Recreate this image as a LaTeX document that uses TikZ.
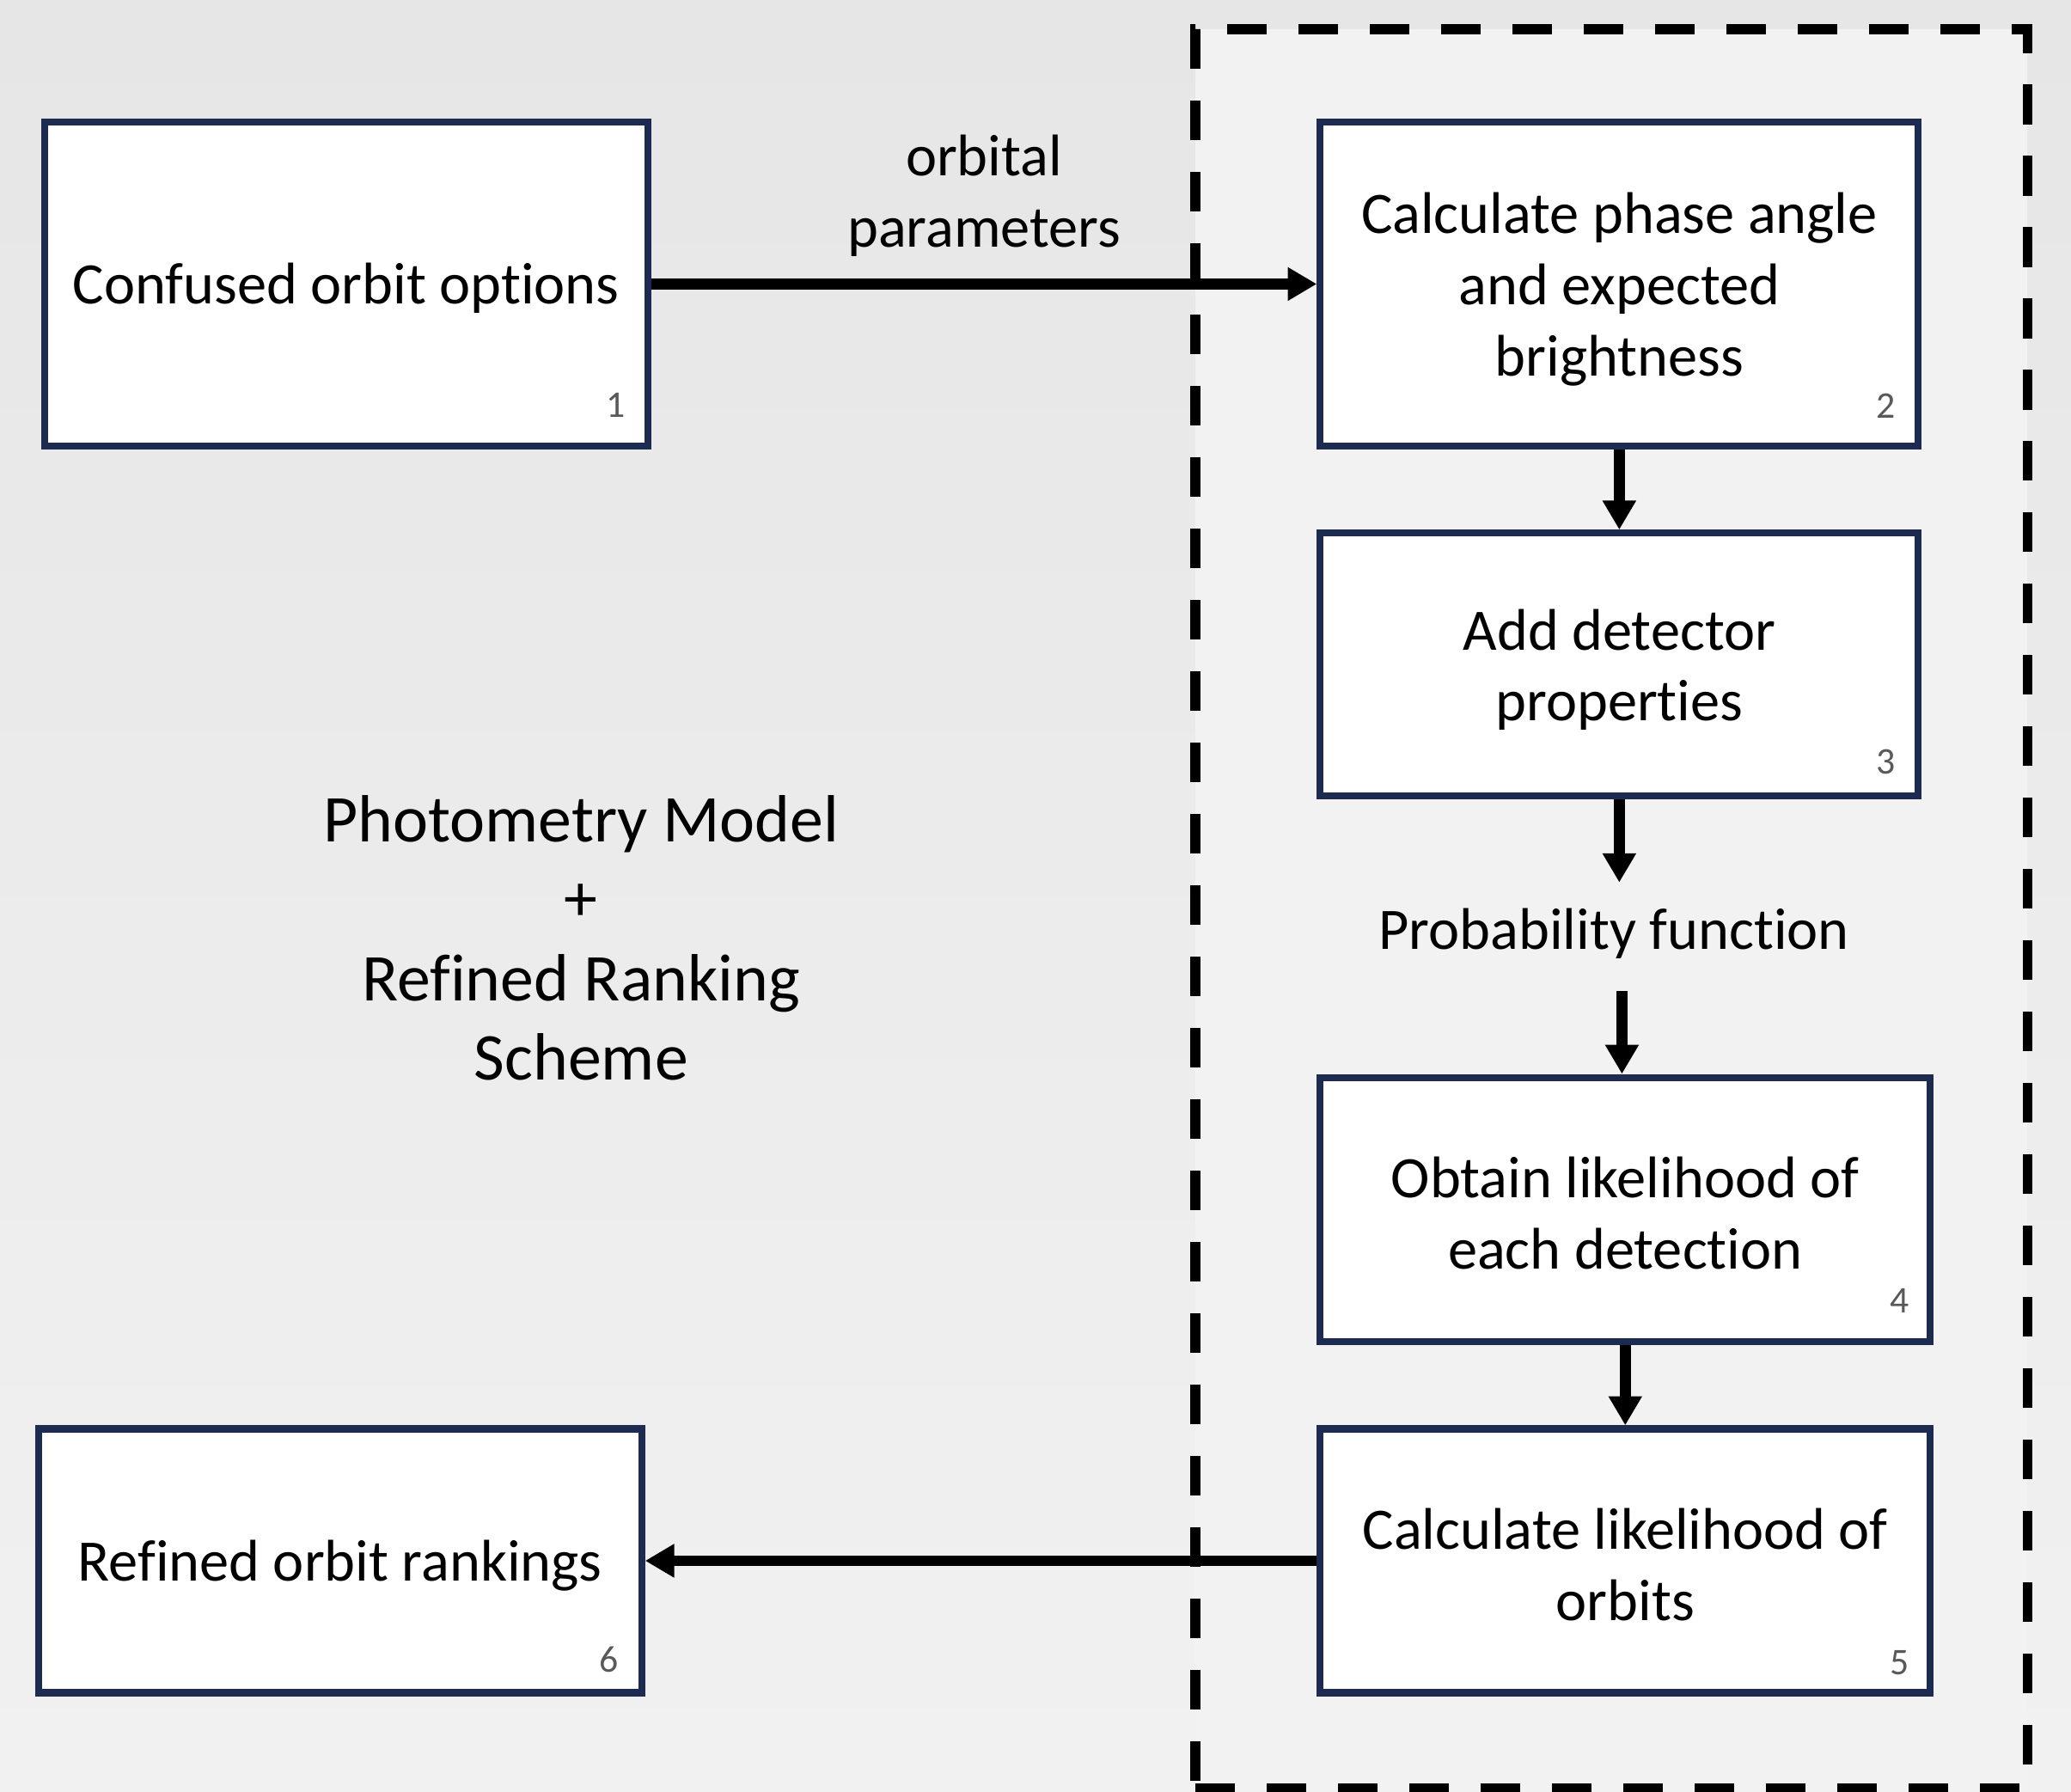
\documentclass[tikz,border=0pt]{standalone}
\usepackage{fontspec}
\setmainfont{Carlito}[Ligatures=NoCommon]
\usetikzlibrary{arrows.meta,calc}
\definecolor{navy}{HTML}{1C2B4F}
\definecolor{numgray}{HTML}{595959}
\definecolor{bgtop}{HTML}{E6E6E6}
\definecolor{bgbot}{HTML}{F1F1F1}
\definecolor{bgin}{HTML}{F2F2F2}
\newcommand{\bxfont}{\fontsize{63.3}{76.8}\selectfont}
\newcommand{\ttlfont}{\fontsize{72}{85.4}\selectfont}
\newcommand{\nmfont}{\fontsize{40.5}{48}\selectfont}
\tikzset{
  procbox/.style={draw=navy, fill=white, line width=0.265cm, inner sep=0pt},
  boxtext/.style={align=center, font=\bxfont, inner sep=0pt},
  numlabel/.style={font=\nmfont, text=numgray, inner sep=0pt},
  arr/.style={line width=0.42cm, -{Triangle[length=1.1cm, width=1.2cm]}},
  groupframe/.style={draw=black, line width=0.375cm, dash pattern=on 1.5cm off 1.2cm, inner sep=0pt}
}
\begin{document}
\begin{tikzpicture}[x=0.05cm, y=-0.05cm]
\useasboundingbox (0,0) rectangle (1568,1356);
\shade[top color=bgtop, bottom color=bgbot] (0,0) rectangle (1568,1356);
\fill[bgin] (905,22) rectangle (1535,1356);
\node[groupframe, minimum width=31.5cm, minimum height=66.6cm] (grp) at (1220,688) {};

% boxes
\node[procbox, minimum width=22.83cm, minimum height=12.24cm] (b1) at (262,215) {};
\node[procbox, minimum width=22.64cm, minimum height=12.24cm] (b2) at (1226,215) {};
\node[procbox, minimum width=22.64cm, minimum height=9.94cm] (b3) at (1226,503) {};
\node[procbox, minimum width=23.09cm, minimum height=9.99cm] (b4) at (1230.5,915.5) {};
\node[procbox, minimum width=23.09cm, minimum height=9.99cm] (b5) at (1230.5,1181.5) {};
\node[procbox, minimum width=22.83cm, minimum height=9.99cm] (b6) at (257.5,1181.5) {};

% box texts
\node[boxtext] (t1) at ($(b1)+(0,3)$) {Confused orbit options};
\node[boxtext] (t2) at ($(b2)+(0,4)$) {Calculate phase angle\\and expected\\brightness};
\node[boxtext] (t3) at ($(b3)+(0,4)$) {Add detector\\properties};
\node[boxtext] (t4) at ($(b4)+(0,3)$) {Obtain likelihood of\\each detection};
\node[boxtext] (t5) at ($(b5)+(0,3)$) {Calculate likelihood of\\orbits};
\node[boxtext] (t6) at ($(b6)+(0,4)$) {Refined orbit rankings};

% numbers
\node[numlabel] (n1) at (466,307) {1};
\node[numlabel] (n2) at (1428,307) {2};
\node[numlabel] (n3) at (1428,577) {3};
\node[numlabel] (n4) at (1438,985) {4};
\node[numlabel] (n5) at (1438,1259) {5};
\node[numlabel] (n6) at (461,1256) {6};

% free texts
\node[boxtext] (orb) at (745,148) {orbital\\parameters};
\node[boxtext] (prob) at (1222,707) {Probability function};
\node[align=center, font=\ttlfont, inner sep=0pt] (title) at (440,710) {Photometry Model\\+\\Refined Ranking\\Scheme};

\coordinate (pin) at (1226,668);
\coordinate (pout) at (1228,750);

% connectors
\draw[arr] (b1.east) -- (b2.west);
\draw[arr] (b2.south) -- (b3.north);
\draw[arr] (b3.south) -- (pin);
\draw[arr] (pout) -- (pout |- b4.north);
\draw[arr] (b4.south) -- (b5.north);
\draw[arr] (b5.west) -- (b6.east);
\end{tikzpicture}
\end{document}
